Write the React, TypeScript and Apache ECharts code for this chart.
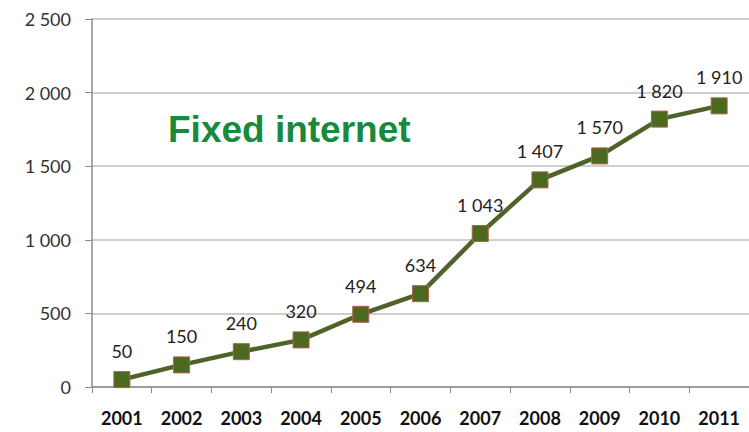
import React, { useEffect, useRef } from "react";
import * as echarts from "echarts";

const years = ["2001", "2002", "2003", "2004", "2005", "2006", "2007", "2008", "2009", "2010", "2011"];
const values = [50, 150, 240, 320, 494, 634, 1043, 1407, 1570, 1820, 1910];
const titleText = "Fixed internet";

const fmt = (v: number) => String(v).replace(/\B(?=(\d{3})+(?!\d))/g, " ");

export default function App() {
  const ref = useRef<HTMLDivElement>(null);
  useEffect(() => {
    const chart = echarts.init(ref.current!, null, { renderer: "svg" });
    chart.setOption({
      animation: false,
      backgroundColor: "#ffffff",
      title: {
        text: titleText,
        left: 163,
        top: 106,
        textStyle: { color: "#178a3c", fontSize: 37, fontWeight: "bold", fontFamily: "Liberation Sans, Arial, sans-serif" },
      },
      grid: { left: 92, right: 0, top: 19, bottom: 45 },
      xAxis: {
        type: "category",
        data: years,
        boundaryGap: true,
        axisLine: { lineStyle: { color: "#8c8c8c", width: 1.5 } },
        axisTick: { show: true, length: 6, lineStyle: { color: "#8c8c8c" } },
        axisLabel: { color: "#111", fontSize: 18, fontWeight: "bold", margin: 22, fontFamily: "Lato, sans-serif" },
      },
      yAxis: {
        type: "value",
        min: 0,
        max: 2500,
        interval: 500,
        axisLine: { show: true, lineStyle: { color: "#8c8c8c", width: 1.5 } },
        axisTick: { show: true, length: 7, lineStyle: { color: "#8c8c8c" } },
        splitLine: { lineStyle: { color: "#bfbfbf", width: 1.5 } },
        axisLabel: { color: "#333", fontSize: 18, margin: 21, fontFamily: "Lato, sans-serif", formatter: (v: number) => fmt(v) },
      },
      series: [
        {
          type: "line",
          data: values,
          symbol: "rect",
          symbolSize: 16,
          lineStyle: { color: "#4f6228", width: 4.5 },
          itemStyle: { color: "#4b6a1f", borderColor: "#b0604a", borderWidth: 1 },
          label: {
            show: true,
            position: "top",
            distance: 11,
            color: "#222",
            fontSize: 18,
            fontFamily: "Lato, sans-serif",
            formatter: (p: any) => fmt(p.value),
          },
        },
      ],
    });
    return () => chart.dispose();
  }, []);
  return <div ref={ref} style={{ width: 749, height: 432, position: "absolute", left: 0, top: 0 }} />;
}
